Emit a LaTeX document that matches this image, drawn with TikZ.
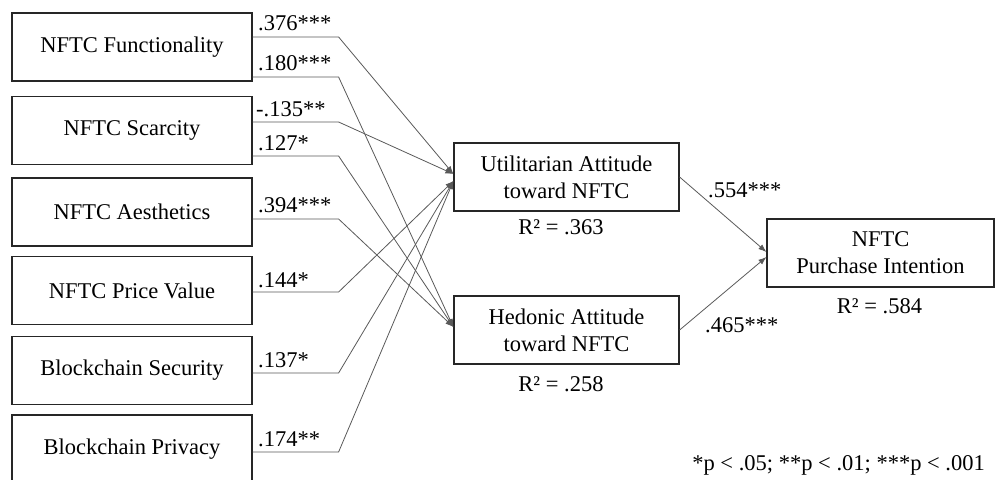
\documentclass[tikz,border=0pt]{standalone}
\usepackage{fontspec}
\setmainfont{Liberation Serif}
\usetikzlibrary{arrows.meta}
\begin{document}
\begin{tikzpicture}[x=1pt,y=-1pt,
  txt/.style={font=\fontsize{22.5}{27}\selectfont, inner sep=0pt},
  box/.style={txt, draw=black!85, line width=1.2pt, minimum height=68pt, align=center},
  lbox/.style={box, minimum width=240pt},
  mbox/.style={box, minimum width=225pt},
  conn/.style={draw=black!65, line width=0.8pt, -{Latex[length=8pt,width=6pt]}},
  lab/.style={txt, anchor=base west}
]
\useasboundingbox (0,0) rectangle (995,479);
% left boxes
\node[lbox] (b1) at (132,47) {NFTC Functionality};
\node[lbox] (b2) at (132,130.5) {NFTC Scarcity};
\node[lbox] (b3) at (132,212) {NFTC Aesthetics};
\node[lbox] (b4) at (132,290.5) {NFTC Price Value};
\node[lbox] (b5) at (132,370.5) {Blockchain Security};
\node[lbox] (b6) at (132,449) {Blockchain Privacy};
% middle boxes
\node[mbox] (util) at (566.5,177) {Utilitarian Attitude\\toward NFTC};
\node[mbox] (hed) at (566.5,330) {Hedonic Attitude\\toward NFTC};
% right box
\node[box, minimum width=227pt] (pi) at (880.5,253) {NFTC\\Purchase Intention};
% connectors
\draw[conn] ([yshift=10pt]b1.east) -- ++(86,0) -- ([yshift=3pt]util.west);
\draw[conn] ([yshift=-30pt]b1.east) -- ++(86,0) -- ([yshift=3pt]hed.west);
\draw[conn] ([yshift=8.5pt]b2.east) -- ++(86,0) -- ([yshift=3pt]util.west);
\draw[conn] ([yshift=-25.5pt]b2.east) -- ++(86,0) -- ([yshift=3pt]hed.west);
\draw[conn] ([yshift=-7pt]b3.east) -- ++(86,0) -- ([yshift=3pt]hed.west);
\draw[conn] ([yshift=-1.5pt]b4.east) -- ++(86,0) -- ([yshift=-4pt]util.west);
\draw[conn] ([yshift=-2.5pt]b5.east) -- ++(86,0) -- ([yshift=-4pt]util.west);
\draw[conn] ([yshift=-3pt]b6.east) -- ++(86,0) -- ([yshift=-4pt]util.west);
\draw[conn] ([yshift=0pt]util.east) -- ([yshift=1pt]pi.west);
\draw[conn] ([yshift=0pt]hed.east) -- ([yshift=-4pt]pi.west);
% path labels
\node[lab] (l1) at (258,30) {.376***};
\node[lab] (l2) at (258,70) {.180***};
\node[lab] (l3) at (256,116) {-.135**};
\node[lab] (l4) at (258,150) {.127*};
\node[lab] (l5) at (258,212) {.394***};
\node[lab] (l6) at (258,287) {.144*};
\node[lab] (l7) at (258,367) {.137*};
\node[lab] (l8) at (258,446) {.174**};
\node[lab] (l9) at (708,197) {.554***};
\node[lab] (l10) at (705,332) {.465***};
% R squared
\node[txt, anchor=base] (r1) at (561,234) {R² = .363};
\node[txt, anchor=base] (r2) at (561,391) {R² = .258};
\node[txt, anchor=base] (r3) at (879.5,313) {R² = .584};
% footnote
\node[txt, anchor=base east] (fn) at (985,470) {*p < .05; **p < .01; ***p < .001};
\end{tikzpicture}
\end{document}
